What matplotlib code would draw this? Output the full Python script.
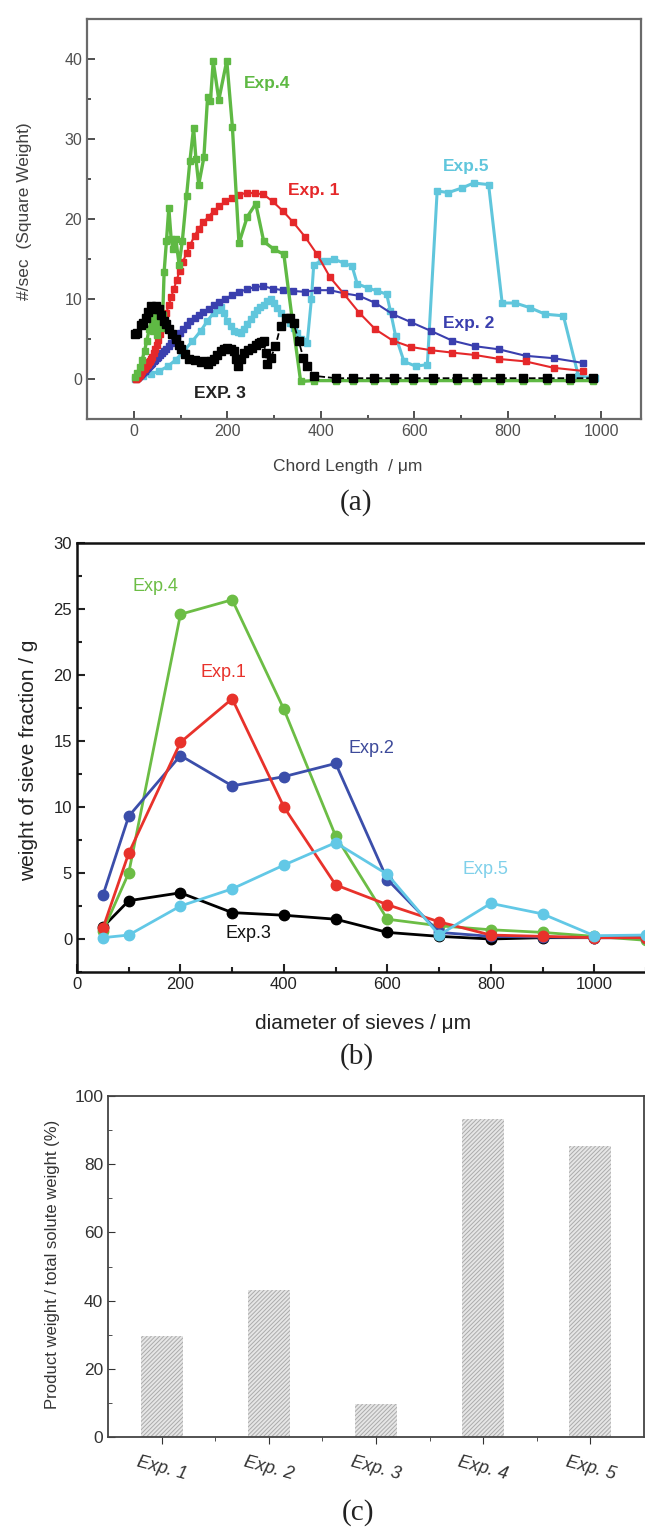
import matplotlib
matplotlib.use("Agg")
import matplotlib.pyplot as plt
from matplotlib.ticker import MultipleLocator

plt.rcParams['font.family'] = ['Liberation Sans', 'DejaVu Sans']
plt.rcParams['hatch.linewidth'] = 0.7

# ---------------- (a) chord length distributions ----------------
grid_a = [5.0, 5.4, 5.8, 6.2, 6.6, 7.1, 7.6, 8.1, 8.7, 9.3,
          10.0, 10.7, 11.5, 12.3, 13.2, 14.1, 15.2, 16.2, 17.4, 18.7,
          20.0, 21.4, 23.0, 24.6, 26.4, 28.3, 30.3, 32.5, 34.8, 37.3,
          40.0, 42.8, 45.9, 49.2, 52.7, 56.5, 60.6, 65.0, 69.5, 74.5,
          80, 86, 92, 98, 105, 113, 121, 130, 139, 149,
          160, 171, 183, 196, 210, 225, 242, 259, 277, 297,
          319, 341, 366, 392, 420, 450, 482, 517, 554, 593,
          636, 681, 730, 782, 838, 898, 962]
exp1_a = [0.0, 0.05, 0.1, 0.1, 0.15, 0.2, 0.2, 0.25, 0.3, 0.35,
          0.4, 0.45, 0.5, 0.55, 0.6, 0.7, 0.8, 0.9, 1.0, 1.1,
          1.2, 1.3, 1.4, 1.5, 1.6, 1.8, 1.9, 2.1, 2.3, 2.5,
          2.7, 3.2, 3.7, 4.3, 4.9, 5.6, 6.4, 7.2, 8.2, 9.2,
          10.2, 11.3, 12.4, 13.5, 14.6, 15.8, 16.8, 17.9, 18.8, 19.6,
          20.3, 21.0, 21.6, 22.2, 22.6, 23.0, 23.3, 23.2, 23.1, 22.2,
          21.0, 19.6, 17.8, 15.6, 12.7, 10.6, 8.3, 6.2, 4.8, 4.0,
          3.6, 3.3, 3.0, 2.5, 2.2, 1.4, 1.0]
exp2_a = [0.1, 0.12, 0.15, 0.17, 0.2, 0.22, 0.25, 0.28, 0.3, 0.33,
          0.36, 0.4, 0.44, 0.48, 0.52, 0.57, 0.62, 0.68, 0.74, 0.8,
          0.87, 0.95, 1.03, 1.12, 1.22, 1.33, 1.45, 1.57, 1.7, 1.85,
          2.0, 2.2, 2.4, 2.6, 2.8, 3.0, 3.3, 3.5, 3.8, 4.1,
          4.5, 4.9, 5.3, 5.8, 6.2, 6.7, 7.2, 7.6, 8.0, 8.4,
          8.8, 9.2, 9.6, 10.0, 10.5, 10.9, 11.2, 11.5, 11.6, 11.3,
          11.1, 11.0, 10.9, 11.1, 11.1, 10.7, 10.4, 9.5, 8.1, 7.1,
          6.0, 4.8, 4.1, 3.7, 2.9, 2.6, 2.0]

x3_a = [3, 8, 15, 20, 26, 31, 36, 42, 47, 53, 59, 64, 70, 75, 82, 90, 96, 100, 110, 118,
        132, 143, 150, 158, 165, 171, 178, 186, 193, 200, 207, 214, 219, 224, 230, 235,
        245, 254, 261, 267, 273, 278, 282, 286, 293, 303, 314, 325, 335, 342, 353, 363,
        371, 385, 432, 470, 513, 556, 598, 641, 692, 735, 784, 833, 885, 934, 983]
exp3_a = [5.6, 5.8, 6.8, 7.0, 7.6, 8.4, 9.1, 8.8, 9.1, 8.8, 8.0, 7.2, 6.9, 6.2, 5.6, 5.0, 4.3, 3.7, 3.1, 2.5,
          2.4, 2.1, 2.2, 1.9, 2.2, 2.5, 3.0, 3.5, 3.8, 3.9, 3.7, 3.5, 2.5, 1.6, 2.5, 3.2,
          3.6, 3.9, 4.2, 4.5, 4.6, 4.7, 3.2, 1.9, 2.6, 4.1, 6.6, 7.6, 7.6, 7.0, 4.7, 2.6,
          1.6, 0.4, 0.1, 0.1, 0.1, 0.1, 0.1, 0.1, 0.1, 0.1, 0.1, 0.1, 0.1, 0.1, 0.1]

x4_a = [3, 8, 13, 18, 23, 28, 33, 38, 42, 46, 50, 54, 58, 62, 65, 70, 75, 80, 84, 90,
        97, 104, 113, 120, 128, 133, 139, 150, 158, 164, 170, 182, 199, 211, 225, 243,
        261, 278, 300, 321, 340, 357, 385, 432, 470, 513, 556, 598, 641, 692, 735, 784,
        833, 885, 934, 983]
exp4_a = [0.2, 0.8, 1.5, 2.4, 3.5, 4.8, 6.2, 7.5, 6.0, 7.8, 5.5, 7.6, 6.4, 8.0, 13.4, 17.3, 21.4, 17.5, 16.2, 17.5,
          14.3, 17.3, 22.9, 27.2, 31.4, 27.5, 24.3, 27.7, 35.3, 34.7, 39.7, 34.9, 39.8, 31.5, 17.0, 20.3,
          21.9, 17.2, 16.2, 15.6, 7.0, -0.3, -0.2, -0.2, -0.2, -0.2, -0.2, -0.2, -0.2, -0.2, -0.2, -0.2,
          -0.2, -0.2, -0.2, -0.2]

x5_a = [3, 10, 20, 36, 55, 73, 90, 107, 125, 143, 157, 171, 179, 186, 193, 200, 207, 214, 222, 229,
        236, 243, 250, 257, 264, 271, 278, 285, 293, 300, 307, 316, 325, 334, 342, 350, 357, 364,
        371, 380, 385, 400, 414, 428, 449, 467, 478, 500, 521, 541, 549, 560, 578, 603, 628,
        649, 673, 703, 727, 759, 788, 816, 848, 880, 919, 951, 987]
exp5_a = [0.0, 0.2, 0.35, 0.6, 1.0, 1.6, 2.4, 3.5, 4.7, 6.0, 7.2, 8.3, 8.6, 9.0, 8.2, 7.3, 6.6, 6.0, 5.9, 5.8,
          6.3, 6.9, 7.5, 8.1, 8.6, 9.0, 9.3, 9.7, 10.0, 9.5, 8.9, 8.2, 7.6, 7.0, 6.4, 5.7, 5.0, 4.7,
          4.5, 10.0, 14.3, 14.7, 14.8, 15.0, 14.5, 14.1, 11.9, 11.4, 11.0, 10.6, 8.5, 5.4, 2.2, 1.6, 1.8,
          23.5, 23.3, 23.9, 24.5, 24.3, 9.5, 9.5, 8.9, 8.1, 7.9, 0.4, 0.1]

# ---------------- (b) sieve fractions ----------------
sieve_d = [50, 100, 200, 300, 400, 500, 600, 700, 800, 900, 1000, 1100]
exp1_b = [0.8, 6.5, 14.9, 18.2, 10.0, 4.1, 2.6, 1.3, 0.3, 0.2, 0.1, 0.1]
exp2_b = [3.3, 9.3, 13.9, 11.6, 12.3, 13.3, 4.5, 0.5, 0.2, 0.15, 0.1, 0.1]
exp3_b = [0.9, 2.9, 3.5, 2.0, 1.8, 1.5, 0.5, 0.2, 0.0, 0.1, 0.1, 0.1]
exp4_b = [0.6, 5.0, 24.6, 25.7, 17.4, 7.8, 1.5, 1.0, 0.7, 0.5, 0.2, -0.1]
exp5_b = [0.1, 0.3, 2.5, 3.8, 5.6, 7.3, 4.9, 0.3, 2.7, 1.9, 0.25, 0.3]

# ---------------- (c) yield ----------------
exp_names = ['Exp. 1', 'Exp. 2', 'Exp. 3', 'Exp. 4', 'Exp. 5']
yield_pct = [29.7, 43.0, 9.8, 93.2, 85.3]

c_green = '#5fb944'
c_red = '#e5282a'
c_navy = '#3a3fae'
c_cyan = '#60c6dc'

fig = plt.figure(figsize=(6.45, 15.39), dpi=100)
W, H = 645.0, 1539.0

def box(l, t, r, b):
    return [l / W, 1 - b / H, (r - l) / W, (b - t) / H]

# ---- panel a ----
ax1 = fig.add_axes(box(87, 19, 641, 419))
ms = 5
ax1.plot(x5_a, exp5_a, '-s', color=c_cyan, lw=2.2, ms=ms, zorder=2)
ax1.plot(grid_a, exp2_a, '-s', color=c_navy, lw=1.5, ms=ms, zorder=3)
ax1.plot(grid_a, exp1_a, '-s', color=c_red, lw=1.5, ms=ms, zorder=4)
ax1.plot(x4_a, exp4_a, '-s', color=c_green, lw=2.4, ms=ms, zorder=5)
ax1.plot(x3_a, exp3_a, '--s', color='black', lw=1.3, ms=5.5, zorder=6)
ax1.set_xlim(-100, 1085)
ax1.set_ylim(-5, 45)
ax1.xaxis.set_major_locator(MultipleLocator(200))
ax1.xaxis.set_minor_locator(MultipleLocator(100))
ax1.yaxis.set_major_locator(MultipleLocator(10))
ax1.yaxis.set_minor_locator(MultipleLocator(5))
ax1.set_yticks([0, 10, 20, 30, 40])
ax1.tick_params(which='both', direction='in', colors='#505050', labelsize=11.5, width=1.4)
ax1.tick_params(which='major', length=6)
ax1.tick_params(which='minor', length=3)
for s in ax1.spines.values():
    s.set_color('#6a6a6a')
    s.set_linewidth(1.6)
ax1.set_xlabel('Chord Length  / \u03bcm', fontsize=12.5, color='#404040', va='center')
ax1.xaxis.set_label_coords(0.47, -0.118)
ax1.set_ylabel('#/sec  (Square Weight)', fontsize=12.5, color='#404040', va='center')
ax1.yaxis.set_label_coords(-0.112, 0.52)
ax1.text(235, 36.9, 'Exp.4', color=c_green, fontsize=12.5, fontweight='bold', va='center')
ax1.text(329, 23.5, 'Exp. 1', color=c_red, fontsize=12.5, fontweight='bold', va='center')
ax1.text(662, 26.5, 'Exp.5', color=c_cyan, fontsize=12.5, fontweight='bold', va='center')
ax1.text(662, 6.9, 'Exp. 2', color=c_navy, fontsize=12.5, fontweight='bold', va='center')
ax1.text(128, -1.75, 'EXP. 3', color='#222222', fontsize=12.5, fontweight='bold', va='center')

# ---- panel b ----
ax2 = fig.add_axes(box(77, 543, 646, 972))
bm = 7.5
ax2.plot(sieve_d, exp4_b, '-o', color='#6cbd45', lw=2, ms=bm, zorder=3)
ax2.plot(sieve_d, exp1_b, '-o', color='#e8322b', lw=2, ms=bm, zorder=4)
ax2.plot(sieve_d, exp2_b, '-o', color='#3b4eaa', lw=2, ms=bm, zorder=3)
ax2.plot(sieve_d, exp3_b, '-o', color='black', lw=2, ms=bm, zorder=2)
ax2.plot(sieve_d, exp5_b, '-o', color='#62c8e6', lw=2, ms=bm, zorder=5)
ax2.set_xlim(0, 1100)
ax2.set_ylim(-2.5, 30)
ax2.xaxis.set_major_locator(MultipleLocator(200))
ax2.xaxis.set_minor_locator(MultipleLocator(100))
ax2.yaxis.set_major_locator(MultipleLocator(5))
ax2.yaxis.set_minor_locator(MultipleLocator(2.5))
ax2.set_yticks([0, 5, 10, 15, 20, 25, 30])
ax2.set_xticks([0, 200, 400, 600, 800, 1000])
ax2.tick_params(which='both', direction='in', colors='#222222', labelsize=12, width=1.5)
ax2.tick_params(which='major', length=6)
ax2.tick_params(which='minor', length=3.5)
for s in ax2.spines.values():
    s.set_color('#111111')
    s.set_linewidth(1.8)
ax2.set_xlabel('diameter of sieves / \u03bcm', fontsize=15, color='#222222', va='center')
ax2.xaxis.set_label_coords(0.503, -0.119)
ax2.set_ylabel('weight of sieve fraction / g', fontsize=15, color='#222222', va='center')
ax2.yaxis.set_label_coords(-0.086, 0.494)
ax2.text(108, 26.7, 'Exp.4', color='#6cbd45', fontsize=13, va='center')
ax2.text(238, 20.2, 'Exp.1', color='#e8322b', fontsize=13, va='center')
ax2.text(524, 14.4, 'Exp.2', color='#3d4a9a', fontsize=13, va='center')
ax2.text(745, 5.3, 'Exp.5', color='#7fd0ea', fontsize=13, va='center')
ax2.text(288, 0.4, 'Exp.3', color='#111111', fontsize=13, va='center')

# ---- panel c ----
ax3 = fig.add_axes(box(108, 1096, 644, 1437))
pos = list(range(1, len(exp_names) + 1))
ax3.bar(pos, yield_pct, width=0.39, color='#e6e6e6', edgecolor='#ababab',
        linewidth=0, hatch='////////', zorder=2)
ax3.set_xlim(0.5, 5.5)
ax3.set_ylim(0, 100)
ax3.set_xticks(pos)
ax3.set_xticks([1.5, 2.5, 3.5, 4.5], minor=True)
ax3.set_xticklabels(exp_names, rotation=-15, fontstyle='italic', fontsize=13,
                    color='#333333', ha='center')
ax3.yaxis.set_major_locator(MultipleLocator(20))
ax3.yaxis.set_minor_locator(MultipleLocator(10))
ax3.tick_params(axis='y', which='both', direction='in', colors='#333333', labelsize=12.5)
ax3.tick_params(axis='x', which='both', direction='out', colors='#333333', pad=7)
ax3.tick_params(which='major', length=5)
ax3.tick_params(which='minor', length=3)
for s in ax3.spines.values():
    s.set_color('#444444')
    s.set_linewidth(1.3)
ax3.set_ylabel('Product weight / total solute weight (%)', fontsize=12, color='#333333',
               va='center')
ax3.yaxis.set_label_coords(-0.104, 0.507)

# panel letters
for lab, xp, yp in [('(a)', 356, 503), ('(b)', 357, 1057), ('(c)', 358, 1513)]:
    fig.text(xp / W, 1 - yp / H, lab, ha='center', va='center', fontsize=21,
             family='Liberation Serif', color='#222222')

fig.savefig('out.png', dpi=100)
